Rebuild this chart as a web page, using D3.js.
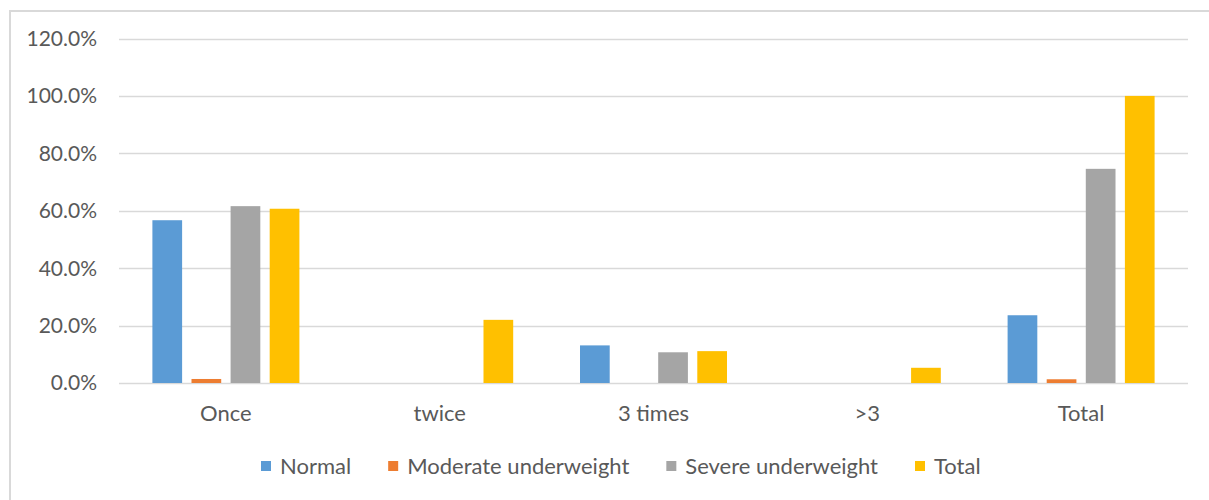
<!DOCTYPE html>
<html>
<head>
<meta charset="utf-8">
<script src="https://cdn.jsdelivr.net/npm/d3@7"></script>
<style>
  body { margin: 0; background: #fff; }
  text { font-family: Lato, "Liberation Sans", sans-serif; fill: #595959; }
</style>
</head>
<body>
<div id="chart"></div>
<script>
const categories = ["Once", "twice", "3 times", ">3", "Total"];
const seriesNames = ["Normal", "Moderate underweight", "Severe underweight", "Total"];
const normal = [56.7, 0, 13.1, 0, 23.6];
const moderate = [1.4, 0, 0, 0, 1.3];
const severe = [61.6, 0, 10.7, 0, 74.6];
const total = [60.7, 22.0, 11.1, 5.3, 100.0];
const yTicks = [0, 20, 40, 60, 80, 100, 120];
const colors = ["#5B9BD5", "#ED7D31", "#A5A5A5", "#FFC000"];

const series = [normal, moderate, severe, total];

const width = 1209;
const height = 500;
const margin = { left: 119, right: 21, top: 38.5, bottom: 117 };

const svg = d3.select("#chart")
    .append("svg")
    .attr("width", width)
    .attr("height", height);

// chart frame
svg.append("rect")
    .attr("x", 10).attr("y", 11)
    .attr("width", width + 20).attr("height", height + 20)
    .attr("fill", "none")
    .attr("stroke", "#D9D9D9")
    .attr("stroke-width", 2);

const x = d3.scaleBand()
    .domain(categories)
    .range([margin.left, width - margin.right]);

const y = d3.scaleLinear()
    .domain([0, 120])
    .range([height - margin.bottom, margin.top]);

// inner grouping of the four bars
const x1 = d3.scaleBand()
    .domain(d3.range(series.length))
    .range([0, 147])
    .paddingInner(0.24);

// gridlines
svg.append("g")
    .selectAll("line")
    .data(yTicks)
    .enter().append("line")
    .attr("x1", margin.left)
    .attr("x2", width - margin.right)
    .attr("y1", d => Math.round(y(d)) + 0.5)
    .attr("y2", d => Math.round(y(d)) + 0.5)
    .attr("stroke", "#D9D9D9")
    .attr("stroke-width", 1.3);

// y tick labels
svg.append("g")
    .selectAll("text")
    .data(yTicks)
    .enter().append("text")
    .attr("x", 97)
    .attr("y", d => y(d))
    .attr("dy", "0.35em")
    .attr("text-anchor", "end")
    .style("font-size", "21px")
    .text(d => d.toFixed(1) + "%");

// bars
const groups = svg.append("g")
    .selectAll("g")
    .data(categories)
    .enter().append("g")
    .attr("transform", d => `translate(${x(d) + (x.bandwidth() - 147) / 2},0)`);

groups.selectAll("rect")
    .data((c, i) => series.map((s, k) => ({ k, v: s[i] })))
    .enter().append("rect")
    .filter(d => d.v > 0)
    .attr("x", d => x1(d.k))
    .attr("width", x1.bandwidth())
    .attr("y", d => y(d.v))
    .attr("height", d => y(0) - y(d.v))
    .attr("fill", d => colors[d.k]);

// x labels
svg.append("g")
    .selectAll("text")
    .data(categories)
    .enter().append("text")
    .attr("x", d => x(d) + x.bandwidth() / 2)
    .attr("y", 413)
    .attr("dy", "0.35em")
    .attr("text-anchor", "middle")
    .style("font-size", "22px")
    .text(d => d);

// legend
const legend = svg.append("g");
let lx = 261;
seriesNames.forEach((name, i) => {
    legend.append("rect")
        .attr("x", lx).attr("y", 461)
        .attr("width", 10).attr("height", 10)
        .attr("fill", colors[i]);
    const t = legend.append("text")
        .attr("x", lx + 19)
        .attr("y", 466)
        .attr("dy", "0.35em")
        .style("font-size", "22px")
        .text(name);
    lx += 19 + t.node().getComputedTextLength() + 37;
});
</script>
</body>
</html>
